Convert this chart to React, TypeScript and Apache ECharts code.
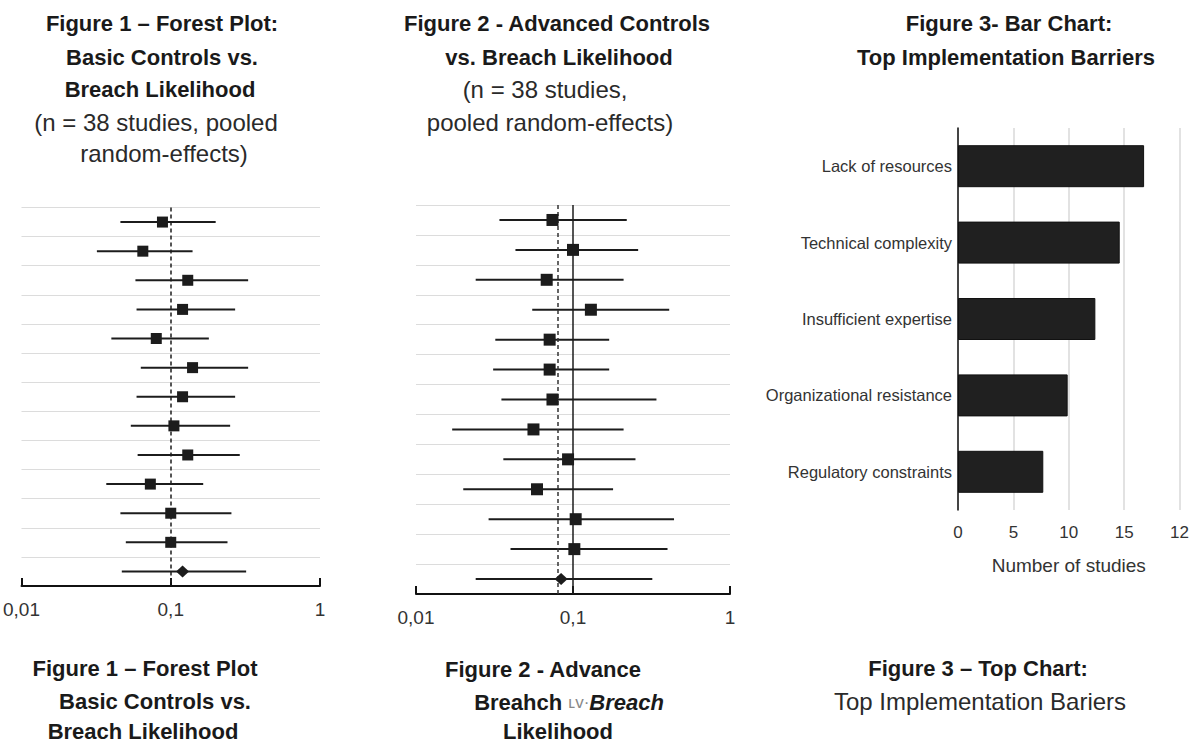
import React, { useEffect, useRef } from "react";
import * as echarts from "echarts";

// ---------- data ----------
const studies = [
  "Study 1", "Study 2", "Study 3", "Study 4", "Study 5", "Study 6",
  "Study 7", "Study 8", "Study 9", "Study 10", "Study 11", "Study 12", "Pooled",
];

// Figure 1 – basic controls (odds ratio, 95% CI)
const fig1Est = [0.088, 0.065, 0.13, 0.12, 0.08, 0.14, 0.12, 0.105, 0.13, 0.073, 0.1, 0.1, 0.12];
const fig1Lo = [0.046, 0.032, 0.058, 0.059, 0.04, 0.063, 0.059, 0.054, 0.06, 0.037, 0.046, 0.05, 0.047];
const fig1Hi = [0.2, 0.14, 0.33, 0.27, 0.18, 0.33, 0.27, 0.25, 0.29, 0.165, 0.255, 0.24, 0.32];
const fig1RefLine = 0.1;

// Figure 2 – advanced controls
const fig2Est = [0.074, 0.1, 0.068, 0.13, 0.071, 0.071, 0.074, 0.056, 0.093, 0.059, 0.104, 0.102, 0.084];
const fig2Lo = [0.034, 0.043, 0.024, 0.055, 0.032, 0.031, 0.035, 0.017, 0.036, 0.02, 0.029, 0.04, 0.024];
const fig2Hi = [0.22, 0.26, 0.21, 0.41, 0.17, 0.17, 0.34, 0.21, 0.25, 0.18, 0.44, 0.4, 0.32];
const fig2PooledLine = 0.077;
const fig2NullLine = 0.1;

const logTickLabels: Record<string, string> = { "-2": "0,01", "-1": "0,1", "0": "1" };

// Figure 3 – barriers
const barriers = [
  "Lack of resources",
  "Technical complexity",
  "Insufficient expertise",
  "Organizational resistance",
  "Regulatory constraints",
];
const barrierCounts = [16.8, 14.6, 12.4, 9.9, 7.7];
const barTickLabels = ["0", "5", "10", "15", "12"];

const FONT = '"Liberation Sans", Arial, sans-serif';
const INK = "#1c1c1c";

function forestSeries(
  axisIdx: number,
  est: number[],
  lo: number[],
  hi: number[],
  sqSize: number,
  markLines: any[]
) {
  const n = studies.length;
  return [
    {
      type: "custom",
      xAxisIndex: axisIdx,
      yAxisIndex: axisIdx,
      data: studies.map((_, i) => [lo[i], hi[i], i]),
      encode: { x: [0, 1], y: 2 },
      z: 3,
      renderItem: (_p: any, api: any) => {
        const i = api.value(2);
        const a = api.coord([api.value(0), i]);
        const b = api.coord([api.value(1), i]);
        return {
          type: "line",
          shape: { x1: a[0], y1: a[1], x2: b[0], y2: b[1] },
          style: { stroke: INK, lineWidth: 2 },
        };
      },
    },
    {
      type: "scatter",
      xAxisIndex: axisIdx,
      yAxisIndex: axisIdx,
      symbol: "rect",
      symbolSize: sqSize,
      itemStyle: { color: INK, opacity: 1 },
      data: est.slice(0, n - 1).map((v, i) => [v, i]),
      z: 5,
      markLine: {
        silent: true,
        symbol: "none",
        label: { show: false },
        data: markLines,
      },
    },
    {
      type: "scatter",
      xAxisIndex: axisIdx,
      yAxisIndex: axisIdx,
      symbol: "diamond",
      symbolSize: [13, 12],
      itemStyle: { color: INK, opacity: 1 },
      data: [[est[n - 1], n - 1]],
      z: 5,
    },
  ];
}

function logXAxis(gridIndex: number) {
  return {
    type: "log",
    logBase: 10,
    gridIndex,
    min: 0.01,
    max: 1,
    axisLine: { show: true, lineStyle: { color: "#111", width: 2 } },
    axisTick: { show: true, inside: true, length: 8, lineStyle: { color: "#111", width: 2 } },
    axisLabel: {
      show: true,
      margin: 14,
      fontSize: 19,
      color: "#333",
      fontFamily: FONT,
      showMinLabel: true,
      showMaxLabel: true,
      formatter: (v: number) => logTickLabels[String(Math.round(Math.log10(v)))] ?? "",
    },
    splitLine: { show: false },
  };
}

function catYAxis(gridIndex: number) {
  return {
    type: "category",
    gridIndex,
    data: studies,
    inverse: true,
    boundaryGap: true,
    axisLine: { show: false },
    axisTick: { show: false },
    axisLabel: { show: false },
    splitLine: { show: true, lineStyle: { color: "#dcdcdc", width: 1 } },
  };
}

function txt(text: string, x: number, y: number, size: number, bold: boolean, color = "#1a1a1a") {
  return {
    type: "text",
    x,
    y,
    silent: true,
    style: {
      text,
      fill: color,
      fontSize: size,
      fontWeight: bold ? "bold" : "normal",
      fontFamily: FONT,
      align: "center",
      verticalAlign: "middle",
    },
  };
}

export default function App() {
  const ref = useRef<HTMLDivElement>(null);

  useEffect(() => {
    if (!ref.current) return;
    const chart = echarts.init(ref.current, undefined, { renderer: "svg" });

    const option: any = {
      animation: false,
      backgroundColor: "#ffffff",
      grid: [
        { left: 15, width: 305, top: 207.5, height: 378.5 },
        { left: 416, width: 314, top: 205, height: 389 },
        { left: 958, width: 222, top: 128, height: 382 },
      ],
      xAxis: [
        logXAxis(0),
        logXAxis(1),
        {
          type: "value",
          gridIndex: 2,
          min: 0,
          max: 20,
          interval: 5,
          axisLine: { show: false },
          axisTick: { show: false },
          axisLabel: {
            fontSize: 17,
            color: "#333",
            fontFamily: FONT,
            margin: 14,
            formatter: (v: number) => barTickLabels[Math.round(v / 5)] ?? "",
          },
          splitLine: { show: true, lineStyle: { color: "#d9d9d9", width: 1.5 } },
          name: "Number of studies",
          nameLocation: "middle",
          nameGap: 46,
          nameTextStyle: { fontSize: 19, color: "#333", fontFamily: FONT },
        },
      ],
      yAxis: [
        catYAxis(0),
        catYAxis(1),
        {
          type: "category",
          gridIndex: 2,
          data: barriers,
          inverse: true,
          axisLine: { show: true, lineStyle: { color: "#111", width: 1.5 } },
          axisTick: { show: false },
          axisLabel: { fontSize: 16.5, color: "#333", fontFamily: FONT, margin: 6 },
          splitLine: { show: false },
        },
      ],
      series: [
        ...forestSeries(0, fig1Est, fig1Lo, fig1Hi, 11, [
          { xAxis: fig1RefLine, lineStyle: { color: INK, width: 1.5, type: [4, 3] } },
        ]),
        ...forestSeries(1, fig2Est, fig2Lo, fig2Hi, 12, [
          { xAxis: fig2PooledLine, lineStyle: { color: "#333", width: 1.5, type: [4, 3] } },
          { xAxis: fig2NullLine, lineStyle: { color: INK, width: 1.5, type: "solid" } },
        ]),
        {
          type: "bar",
          xAxisIndex: 2,
          yAxisIndex: 2,
          data: barrierCounts,
          barWidth: 42,
          itemStyle: { color: "#202020", borderColor: "#111", borderWidth: 1 },
          z: 3,
        },
      ],
      graphic: [
        // Figure 1 title block
        txt("Figure 1 – Forest Plot:", 162, 23, 22, true),
        txt("Basic Controls vs.", 162, 57, 22, true),
        txt("Breach Likelihood", 160, 89, 22, true),
        txt("(n = 38 studies, pooled", 156, 122, 24, false, "#2a2a2a"),
        txt("random-effects)", 164, 153, 24, false, "#2a2a2a"),
        // Figure 2 title block
        txt("Figure 2 - Advanced Controls", 557, 23, 22, true),
        txt("vs. Breach Likelihood", 559, 57, 22, true),
        txt("(n = 38 studies,", 545, 89, 24, false, "#2a2a2a"),
        txt("pooled random-effects)", 550, 122, 24, false, "#2a2a2a"),
        // Figure 3 title block
        txt("Figure 3- Bar Chart:", 1009, 23, 22, true),
        txt("Top Implementation Barriers", 1006, 57, 22, true),
        // bottom captions
        txt("Figure 1 – Forest Plot", 145, 668, 22, true),
        txt("Basic Controls vs.", 155, 701, 22, true),
        txt("Breach Likelihood", 143, 731, 22, true),
        txt("Figure 2 - Advance", 543, 669, 22, true),
        {
          type: "text",
          x: 569,
          y: 702,
          silent: true,
          style: {
            text: "{a|Breahch }{b|ʟv·}{c|Breach}",
            align: "center",
            verticalAlign: "middle",
            fill: "#1a1a1a",
            fontSize: 22,
            fontWeight: "bold",
            fontFamily: FONT,
            rich: {
              a: { fontSize: 22, fontWeight: "bold", fontFamily: FONT, fill: "#1a1a1a" },
              b: { fontSize: 17, fontWeight: "normal", fontFamily: FONT, fill: "#888" },
              c: { fontSize: 22, fontWeight: "bold", fontStyle: "italic", fontFamily: FONT, fill: "#1a1a1a" },
            },
          },
        },
        txt("Likelihood", 558, 731, 22, true),
        txt("Figure 3 – Top Chart:", 978, 668, 22, true),
        txt("Top Implementation Bariers", 980, 701, 24, false, "#2a2a2a"),
      ],
    };

    chart.setOption(option);
    return () => chart.dispose();
  }, []);

  return (
    <div
      ref={ref}
      style={{ position: "absolute", left: 0, top: 0, width: 1192, height: 745, background: "#fff" }}
    />
  );
}
